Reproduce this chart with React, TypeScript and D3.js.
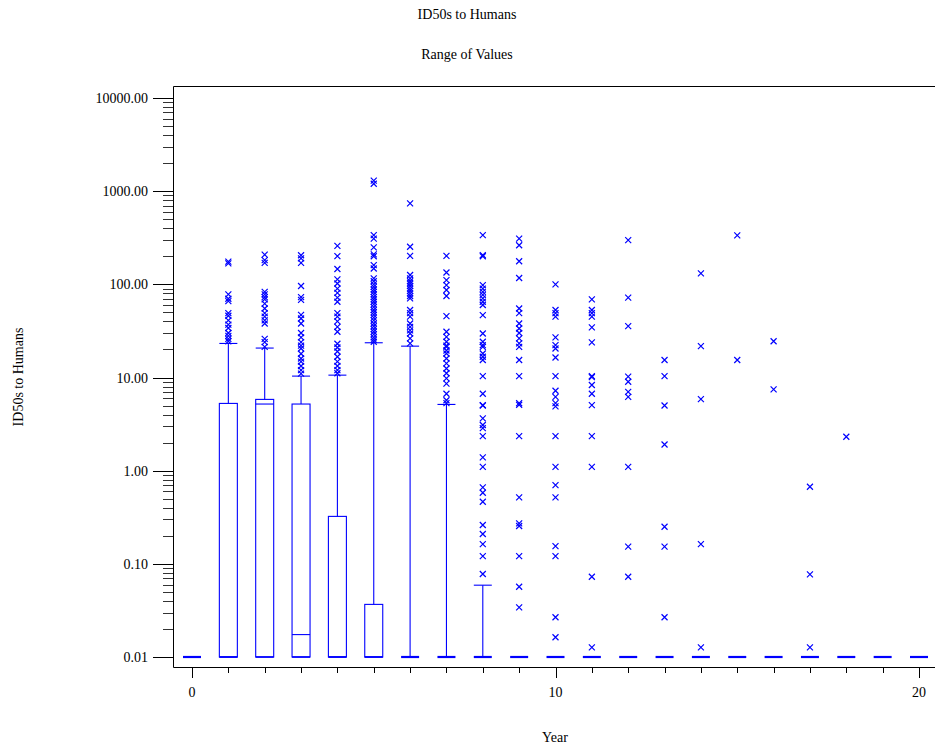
import React from "react";
import * as d3 from "d3";

const years = d3.range(0, 21);
const q1 = years.map(() => 0.01);
const median = [0.01, 0.01, 5.19, 0.0174, 0.01, 0.01, 0.01, 0.01, 0.01, 0.01, 0.01, 0.01, 0.01, 0.01, 0.01, 0.01, 0.01, 0.01, 0.01, 0.01, 0.01];
const q3 = [0.01, 5.27, 5.82, 5.19, 0.323, 0.0367, 0.01, 0.01, 0.01, 0.01, 0.01, 0.01, 0.01, 0.01, 0.01, 0.01, 0.01, 0.01, 0.01, 0.01, 0.01];
const whiskerHigh = [0.01, 23.2, 20.7, 10.35, 10.6, 23.6, 21.7, 5.14, 0.059, 0.01, 0.01, 0.01, 0.01, 0.01, 0.01, 0.01, 0.01, 0.01, 0.01, 0.01, 0.01];

const outliers: number[][] = [
  [],
  [175, 168, 78, 70, 66, 49, 46, 41, 37, 34, 30, 28, 26, 24.5],
  [208, 182, 170, 83, 78, 73, 69, 62, 55, 49, 45, 41, 38, 26, 24, 21.3],
  [205, 190, 170, 96, 73, 68, 47, 43, 38, 30, 27, 24, 22, 20.5, 18, 16, 14.8, 13.3, 12, 11],
  [259, 201, 146, 113, 102, 90, 81, 72, 65, 49, 45, 40, 35, 31, 23, 21, 19, 16.7, 14.8, 13.3, 12, 11.1],
  [1300, 1200, 337, 310, 249, 210, 200, 161, 148, 116, 108, 100, 94, 88, 83, 78, 73, 69, 65, 61, 57, 53, 50, 47, 44, 41, 38, 35.5, 33, 31, 29, 27, 25.5, 24.2],
  [740, 253, 202, 126, 116, 108, 102, 96, 90, 85, 80, 75, 70.6, 53, 49, 45, 38, 35, 32, 29.7, 26.3, 23.2],
  [202, 134, 111, 98, 87, 75, 45.6, 31, 27.3, 24.2, 22, 21.3, 19.5, 18.1, 16, 14.2, 12.5, 11.1, 9.8, 8.6, 6.7, 5.7, 5.3],
  [337, 206, 200, 98, 90, 83, 77, 70.6, 65, 60, 46.7, 29.7, 24.2, 22.3, 21.3, 18.1, 16.7, 15.4, 10.35, 6.7, 5.06, 5.0, 3.64, 3.09, 2.86, 2.35, 1.39, 1.1, 0.662, 0.58, 0.464, 0.261, 0.209, 0.163, 0.121, 0.0778],
  [310, 263, 177, 117, 55, 49, 38, 33.6, 30, 26.3, 23.2, 21.3, 15.4, 10.35, 5.3, 5.1, 2.35, 0.517, 0.272, 0.255, 0.121, 0.0568, 0.0341],
  [100, 53, 49, 45, 27, 22.3, 20.5, 16.4, 10.35, 7.2, 6.2, 5.3, 4.9, 2.35, 1.1, 0.7, 0.517, 0.155, 0.121, 0.0267, 0.0163],
  [69, 53, 49, 45, 34.5, 23.8, 10.35, 10.1, 8.3, 6.7, 5.06, 2.35, 1.1, 0.0727, 0.0127],
  [298, 72, 35.6, 10.2, 9, 7, 6.2, 1.1, 0.153, 0.0727],
  [15.4, 10.35, 5.0, 1.91, 0.25, 0.153, 0.0267],
  [131, 21.7, 5.86, 0.163, 0.0127],
  [335, 15.4],
  [24.5, 7.45],
  [0.672, 0.077, 0.0127],
  [2.31],
  [],
  [],
];

const yMajorTicks = [0.01, 0.1, 1, 10, 100, 1000, 10000];
const yTickLabels = ["0.01", "0.10", "1.00", "10.00", "100.00", "1000.00", "10000.00"];
const xMajorTicks = [0, 10, 20];
const xTickLabels = ["0", "10", "20"];

const title = "ID50s to Humans";
const subtitle = "Range of Values";
const yTitle = "ID50s to Humans";
const xTitle = "Year";

export default function App() {
  const W = 935, H = 747;
  const left = 173, top = 86, bottom = 667, right = 935;
  const x = d3.scaleLinear().domain([0, 20]).range([192, 919]);
  const y = d3.scaleLog().domain([0.01, 10000]).range([657, 98]);
  const blue = "#0000FF";
  const font = "'Liberation Serif', 'Times New Roman', serif";
  const bw = 18;
  const fs = 14;

  const minorY: number[] = [];
  for (let k = -2; k < 4; k++) {
    for (let m = 2; m <= 9; m++) minorY.push(m * Math.pow(10, k));
  }

  return (
    <svg width={W} height={H} style={{ position: "absolute", left: 0, top: 0, background: "#fff" }} fontFamily={font}>
      <rect x={0} y={0} width={W} height={H} fill="#fff" />
      <text x={467} y={19} fontSize={fs} textAnchor="middle">{title}</text>
      <text x={467} y={59} fontSize={fs} textAnchor="middle">{subtitle}</text>
      <text transform={`translate(23,377) rotate(-90)`} fontSize={fs} textAnchor="middle">{yTitle}</text>
      <text x={555} y={742} fontSize={fs} textAnchor="middle">{xTitle}</text>

      {/* frame */}
      <path d={`M${right},${top + 0.5}H${left + 0.5}V${bottom + 0.5}H${right}`} fill="none" stroke="#000" strokeWidth={1} />

      {/* y ticks */}
      {yMajorTicks.map((v, i) => (
        <g key={"ym" + i}>
          <line x1={153} x2={left} y1={Math.round(y(v)) + 0.5} y2={Math.round(y(v)) + 0.5} stroke="#000" />
          <text x={148} y={y(v) + 5} fontSize={fs} textAnchor="end">{yTickLabels[i]}</text>
        </g>
      ))}
      {minorY.map((v, i) => (
        <line key={"yn" + i} x1={163} x2={left} y1={Math.round(y(v)) + 0.5} y2={Math.round(y(v)) + 0.5} stroke="#333" />
      ))}

      {/* x ticks */}
      {years.map((yr) => {
        const major = xMajorTicks.includes(yr);
        const xp = Math.round(x(yr)) + 0.5;
        return <line key={"xt" + yr} x1={xp} x2={xp} y1={bottom} y2={bottom + (major ? 11 : 6)} stroke="#000" />;
      })}
      {xMajorTicks.map((t, i) => (
        <text key={"xl" + i} x={x(t)} y={697} fontSize={fs} textAnchor="middle">{xTickLabels[i]}</text>
      ))}

      {/* boxes */}
      {years.map((yr) => {
        const cx = x(yr);
        const x0 = cx - bw / 2, x1 = cx + bw / 2;
        const yq1 = y(q1[yr]), yq3 = y(q3[yr]), ym = y(median[yr]), yw = y(whiskerHigh[yr]);
        const collapsed = q3[yr] === q1[yr];
        return (
          <g key={"b" + yr} stroke={blue} fill="none">
            {collapsed ? (
              <line x1={x0} x2={x1} y1={yq1} y2={yq1} strokeWidth={2.2} />
            ) : (
              <>
                <rect x={x0} y={yq3} width={bw} height={yq1 - yq3} strokeWidth={1.1} />
                <line x1={x0} x2={x1} y1={ym} y2={ym} strokeWidth={1.1} />
                <line x1={x0} x2={x1} y1={yq1} y2={yq1} strokeWidth={1.6} />
              </>
            )}
            {whiskerHigh[yr] > q3[yr] && (
              <>
                <line x1={cx} x2={cx} y1={yq3} y2={yw} strokeWidth={1.1} />
                <line x1={x0} x2={x1} y1={yw} y2={yw} strokeWidth={1.1} />
              </>
            )}
            {outliers[yr].map((v, j) => {
              const py = y(v);
              return (
                <path key={j} d={`M${cx - 3},${py - 3}L${cx + 3},${py + 3}M${cx - 3},${py + 3}L${cx + 3},${py - 3}`} strokeWidth={1.2} />
              );
            })}
          </g>
        );
      })}
    </svg>
  );
}
